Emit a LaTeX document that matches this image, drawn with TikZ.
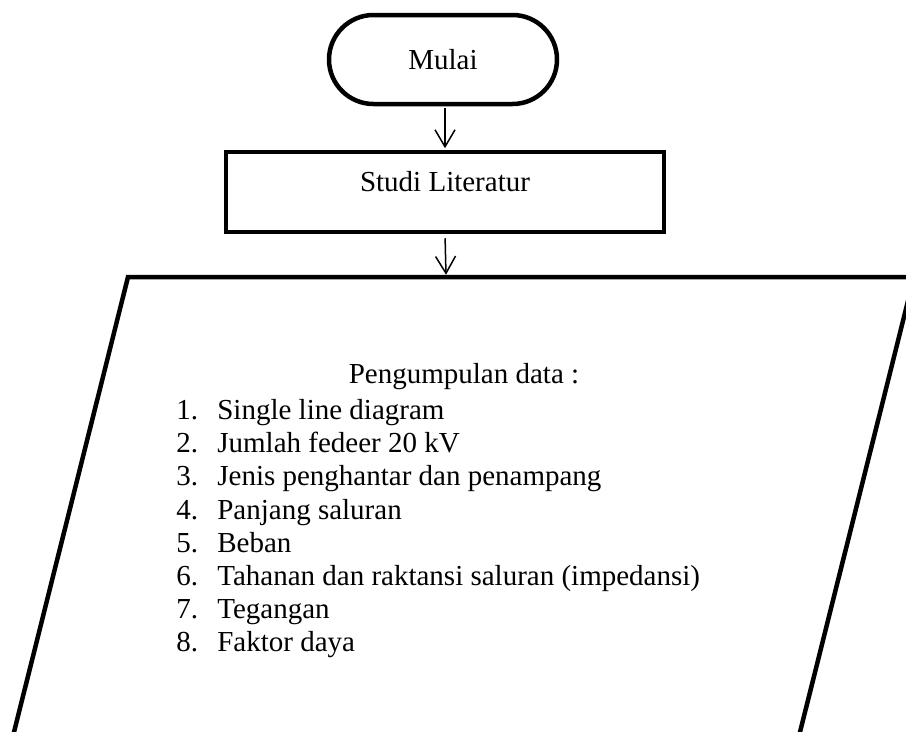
\documentclass[tikz,border=0pt]{standalone}
\usepackage{fontspec}
\setmainfont{Liberation Serif}
\usetikzlibrary{arrows.meta}

\begin{document}
\begin{tikzpicture}[
      x=0.2mm, y=-0.2mm,
      >={Straight Barb[length=3.4mm,width=4mm]},
      font=\fontsize{16.5pt}{19.8pt}\selectfont,
      terminal/.style={draw,line width=0.9mm,rounded corners=8.9mm,minimum width=45.6mm,minimum height=17.8mm},
      process/.style={draw,line width=0.9mm,minimum width=87.6mm,minimum height=16mm,text depth=4.1mm},
      data box/.style={draw,line width=0.9mm},
      plain text/.style={inner sep=0pt,anchor=base west},
      flow/.style={->,line width=0.3mm}
      ]
      \useasboundingbox (0,0) rectangle (906,731);
      \clip (0,0) rectangle (906,731);
      % nodes
      \node [terminal] (start) at (443,59.5) {Mulai};
      \node [process] (lit) at (445,192) {Studi Literatur};
      % data input (runs off the page)
      \draw [data box] (128,277) -- (914,277) -- (783,800) -- (-3,800) -- cycle;
      \coordinate (data) at (446,274.75);
      % text in the data box
      \node [inner sep=0pt,anchor=base] (head) at (464,383) {Pengumpulan data :};
      \foreach \n/\t in {1/Single line diagram, 2/Jumlah fedeer 20 kV, 3/Jenis penghantar dan penampang,
          4/Panjang saluran, 5/Beban, 6/Tahanan dan raktansi saluran (impedansi), 7/Tegangan, 8/Faktor daya} {
          \node [plain text] (num\n) at (176,{386.3+33.2*\n}) {\n.};
          \node [plain text] (item\n) at (217,{386.3+33.2*\n}) {\t};
      }
      % arrows
      \draw [flow,shorten <=0.4mm,shorten >=0.3mm] (lit.north |- start.south) -- (lit.north);
      \draw [flow,shorten <=0.8mm] (lit.south) -- (data);
\end{tikzpicture}
\end{document}
